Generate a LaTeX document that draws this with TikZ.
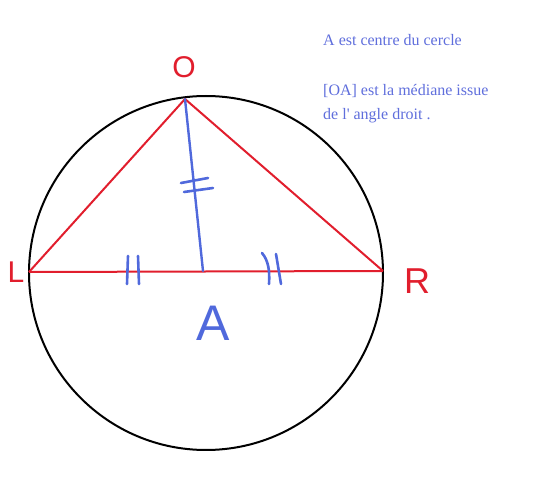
\documentclass[tikz,border=0pt]{standalone}
\usepackage{fontspec}
\setmainfont{Liberation Serif}
\setsansfont{Liberation Sans}
\definecolor{pblue}{RGB}{80,105,220}
\definecolor{pred}{RGB}{225,30,45}
\definecolor{tblue}{RGB}{95,110,220}
\tikzset{
  redline/.style={draw=pred, line width=2pt},
  blueline/.style={draw=pblue, line width=2.4pt, line cap=round},
  tick/.style={draw=pblue, line width=2.6pt, line cap=round},
  handlabel/.style={font=\sffamily\fontsize{30}{30}\selectfont, inner sep=0pt},
  note/.style={font=\fontsize{16}{18}\selectfont, text=tblue, anchor=base west, inner sep=0pt}
}
\begin{document}
\begin{tikzpicture}[x=1pt, y=-1pt]
\useasboundingbox (0,0) rectangle (550,500);
% circle
\coordinate (C) at (206,273);
\draw[black, line width=2pt] (C) circle[radius=177];
% points
\coordinate (O) at (185,99);
\coordinate (L) at (29,272);
\coordinate (R) at (383,271);
\coordinate (A) at (203,271);
% triangle
\draw[redline] (L) -- (O) -- (R);
\draw[redline] (L) -- (R);
% median
\draw[blueline] (O) -- (A);
% ticks on LA
\draw[tick] (128,256) -- (127,284);
\draw[tick] (138,256) -- (139,284);
% ticks on AR
\draw[tick] (262,253) .. controls (268,260) and (270,270) .. (269,284);
\draw[tick] (276,254) -- (281,284);
% ticks on OA
\draw[tick] (181,183) -- (208,178);
\draw[tick] (184,192) -- (213,188);
% labels
\node[handlabel, text=pred] (lO) at (184,67) {O};
\node[handlabel, text=pred] (lL) at (16,272) {L};
\node[handlabel, text=pred, font=\sffamily\fontsize{36}{36}\selectfont] (lR) at (417,281) {R};
\node[handlabel, text=pblue, font=\sffamily\fontsize{50}{50}\selectfont] (lA) at (213,323) {A};
% notes
\node[note] (n1) at (323,46) {A est centre du cercle};
\node[note] (n2) at (323,96) {[OA] est la médiane issue};
\node[note] (n3) at (323,120) {de l\textquotesingle{} angle droit .};
\end{tikzpicture}
\end{document}
